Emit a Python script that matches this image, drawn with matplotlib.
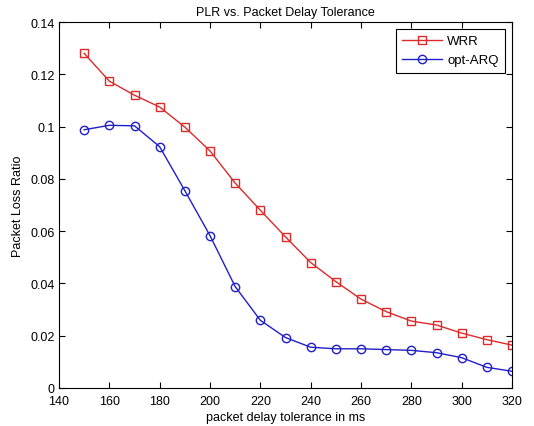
import matplotlib
matplotlib.use("Agg")
import matplotlib.pyplot as plt

x = [150, 160, 170, 180, 190, 200, 210, 220, 230, 240, 250, 260, 270, 280, 290, 300, 310, 320]
wrr = [0.128, 0.1174, 0.112, 0.1075, 0.0998, 0.0907, 0.0784, 0.068, 0.0578, 0.048, 0.0407,
       0.034, 0.0292, 0.0256, 0.0241, 0.021, 0.0185, 0.0164]
opt_arq = [0.0988, 0.1005, 0.1003, 0.0923, 0.0755, 0.0583, 0.0388, 0.0259, 0.0193, 0.0156,
           0.0150, 0.0150, 0.0147, 0.0144, 0.0135, 0.0116, 0.0079, 0.0064]
xticks = [140, 160, 180, 200, 220, 240, 260, 280, 300, 320]
yticks = [0, 0.02, 0.04, 0.06, 0.08, 0.1, 0.12, 0.14]
ytick_labels = ["0", "0.02", "0.04", "0.06", "0.08", "0.1", "0.12", "0.14"]

plt.rcParams['font.family'] = ['Liberation Sans', 'DejaVu Sans']
fig = plt.figure(figsize=(5.34, 4.27), dpi=100)
ax = fig.add_axes([0.1105, 0.089, 0.8483, 0.857])

ax.plot(x, wrr, color='#dd2a2a', marker='s', markersize=5.5, markerfacecolor='none',
        markeredgewidth=1.0, linewidth=1.0, label='WRR')
ax.plot(x, opt_arq, color='#1f1fc8', marker='o', markersize=6, markerfacecolor='none',
        markeredgewidth=1.0, linewidth=1.0, label='opt-ARQ')

ax.set_xlim(140, 320)
ax.set_ylim(0, 0.14)
ax.set_xticks(xticks)
ax.set_yticks(yticks)
ax.set_yticklabels(ytick_labels)
ax.tick_params(direction='in', top=True, right=True, labelsize=9, length=4, width=0.8)
ax.tick_params(axis='x', pad=5)
ax.tick_params(axis='y', pad=3)
for s in ax.spines.values():
    s.set_linewidth(0.8)

ax.set_title('PLR vs. Packet Delay Tolerance', fontsize=9, pad=5)
ax.set_xlabel('packet delay tolerance in ms', fontsize=9, labelpad=3)
ax.set_ylabel('Packet Loss Ratio', fontsize=9, labelpad=5)

leg = ax.legend(loc='upper right', fontsize=9.5, fancybox=False, edgecolor='black',
                framealpha=1, borderaxespad=0.5, handlelength=3.0, borderpad=0.5,
                labelspacing=0.5, handletextpad=0.4)
leg.get_frame().set_linewidth(0.8)

fig.savefig('out.png', dpi=100)
